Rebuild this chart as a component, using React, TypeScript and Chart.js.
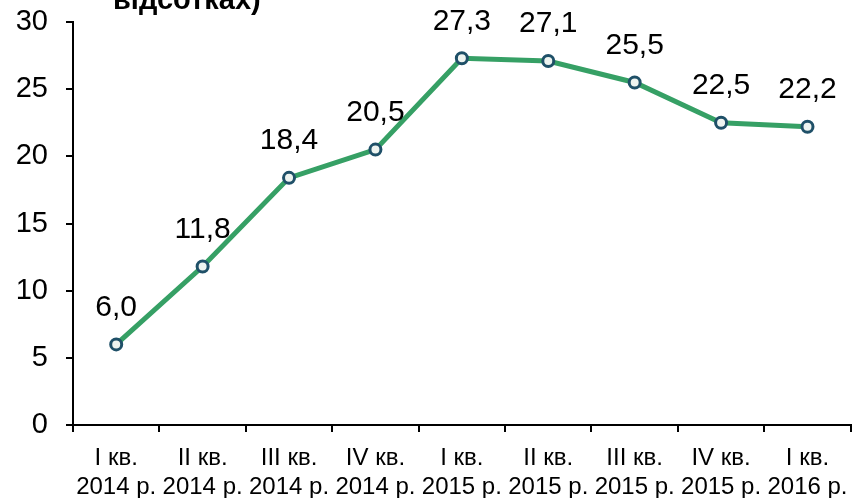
import React, { useEffect, useRef } from "react";
import { Chart, registerables } from "chart.js";

Chart.register(...registerables);

const quarters = ["I кв.", "II кв.", "III кв.", "IV кв.", "I кв.", "II кв.", "III кв.", "IV кв.", "I кв."];
const years = ["2014 р.", "2014 р.", "2014 р.", "2014 р.", "2015 р.", "2015 р.", "2015 р.", "2015 р.", "2016 р."];
const values = [6.0, 11.8, 18.4, 20.5, 27.3, 27.1, 25.5, 22.5, 22.2];
const titleText = "відсотках)";

const FONT = "'Liberation Sans', Arial, sans-serif";
const CANVAS_W = 860;

export default function App() {
  const ref = useRef<HTMLCanvasElement | null>(null);

  useEffect(() => {
    const canvas = ref.current;
    if (!canvas) return;

    const labelsPlugin = {
      id: "valueLabels",
      afterDatasetsDraw(chart: any) {
        const ctx = chart.ctx;
        const meta = chart.getDatasetMeta(0);
        ctx.save();
        ctx.font = `30px ${FONT}`;
        ctx.fillStyle = "#000";
        ctx.textAlign = "center";
        ctx.textBaseline = "middle";
        meta.data.forEach((pt: any, i: number) => {
          const txt = values[i].toFixed(1).replace(".", ",");
          ctx.fillText(txt, pt.x, pt.y - 37);
        });
        ctx.restore();
      },
      afterDraw(chart: any) {
        const ctx = chart.ctx;
        ctx.save();
        ctx.font = `bold 29px ${FONT}`;
        ctx.fillStyle = "#000";
        ctx.textAlign = "left";
        ctx.textBaseline = "alphabetic";
        ctx.fillText(titleText, 113, 9);
        ctx.restore();
      },
    };

    const chart = new Chart(canvas, {
      type: "line",
      data: {
        labels: quarters.map((q, i) => [q, years[i]]),
        datasets: [
          {
            data: values,
            borderColor: "#36a065",
            borderWidth: 5,
            tension: 0,
            pointRadius: 5.5,
            pointHoverRadius: 5.5,
            pointBorderWidth: 3,
            pointBorderColor: "#1f5068",
            pointBackgroundColor: "#eef4f0",
          },
        ],
      },
      options: {
        responsive: false,
        animation: false,
        events: [],
        layout: { padding: { top: 22, right: 2, left: 0, bottom: 0 } },
        plugins: {
          legend: { display: false },
          tooltip: { enabled: false },
          title: { display: false },
        },
        scales: {
          x: {
            type: "category",
            offset: true,
            grid: {
              offset: true,
              drawOnChartArea: false,
              drawTicks: true,
              tickLength: 7,
              color: "#000",
              lineWidth: 2,
            },
            border: { display: true, color: "#000", width: 2 },
            ticks: {
              font: { family: FONT, size: 24 },
              color: "#000",
              padding: 12,
              maxRotation: 0,
              minRotation: 0,
              autoSkip: false,
            },
            afterFit(scale: any) {
              scale.height = 73;
            },
          },
          y: {
            min: 0,
            max: 30,
            grid: {
              drawOnChartArea: false,
              drawTicks: true,
              tickLength: 7,
              color: "#000",
              lineWidth: 2,
            },
            border: { display: true, color: "#000", width: 2 },
            ticks: {
              stepSize: 5,
              font: { family: FONT, size: 29 },
              color: "#000",
              padding: 18,
            },
            afterFit(scale: any) {
              scale.width = 73;
              scale.paddingTop = 0;
              scale.paddingBottom = 0;
            },
          },
        },
      },
      plugins: [labelsPlugin],
    });

    return () => chart.destroy();
  }, []);

  return (
    <div style={{ position: "fixed", left: 0, top: 0, width: 852, height: 498, overflow: "hidden", background: "#fff" }}>
      <canvas ref={ref} width={CANVAS_W} height={498} style={{ width: CANVAS_W, height: 498, display: "block" }} />
    </div>
  );
}
